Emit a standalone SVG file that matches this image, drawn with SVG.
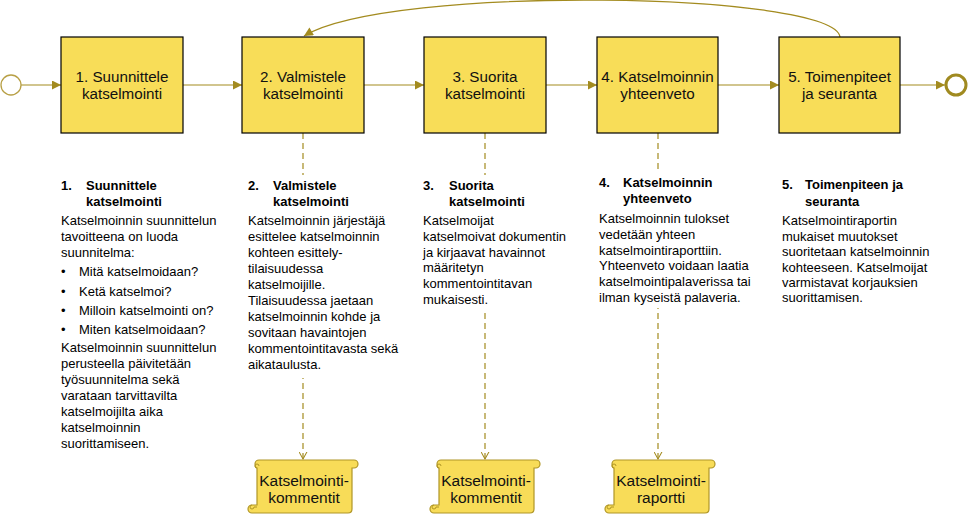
<svg xmlns="http://www.w3.org/2000/svg" width="968" height="517" viewBox="0 0 968 517">
<style>
.box{fill:#F8DD58;stroke:#000;stroke-width:1.2}
.btxt{font-family:"Liberation Sans",Arial,sans-serif;font-size:15.2px;fill:#111;text-anchor:middle}
.flow{fill:none;stroke:#A38B1F;stroke-width:1.2}
.dash{fill:none;stroke:#A38B1F;stroke-width:1.2;stroke-dasharray:6 4}
.scroll{fill:#F8DC58;stroke:#B09626;stroke-width:1.2}
.curl{fill:none;stroke:#B09626;stroke-width:1}
.stxt{font-family:"Liberation Sans",Arial,sans-serif;font-size:15.5px;fill:#111;text-anchor:middle}
.h{font-family:"Liberation Sans",Arial,sans-serif;font-size:13px;font-weight:bold;fill:#000}
.t{font-family:"Liberation Sans",Arial,sans-serif;font-size:13px;fill:#000}
.bg{fill:#fff}
</style>
<defs>
<marker id="arr" viewBox="0 0 10 10" refX="10" refY="5" markerWidth="10" markerHeight="9" markerUnits="userSpaceOnUse" orient="auto">
<path d="M0,0 L10,5 L0,10 Z" fill="#A38B1F"/>
</marker>
<marker id="open" viewBox="0 0 10 10" refX="9" refY="5" markerWidth="8" markerHeight="9" markerUnits="userSpaceOnUse" orient="auto">
<path d="M0,0 L9,5 L0,10" fill="none" stroke="#A38B1F" stroke-width="1.3"/>
</marker>
</defs>
<rect width="968" height="517" fill="#fff"/>

<g id="connectors">
<line class="flow" x1="21" y1="85" x2="61" y2="85" marker-end="url(#arr)"/>
<line class="flow" x1="183" y1="85" x2="242" y2="85" marker-end="url(#arr)"/>
<line class="flow" x1="364" y1="85" x2="424" y2="85" marker-end="url(#arr)"/>
<line class="flow" x1="546" y1="85" x2="597" y2="85" marker-end="url(#arr)"/>
<line class="flow" x1="718" y1="85" x2="779" y2="85" marker-end="url(#arr)"/>
<line class="flow" x1="900" y1="85" x2="945" y2="85" marker-end="url(#arr)"/>
<path class="flow" d="M840,37 C835,-8 390,-16 304,36" marker-end="url(#arr)"/>
<line class="dash" x1="303" y1="133" x2="303" y2="459" marker-end="url(#open)"/>
<line class="dash" x1="485" y1="133" x2="485" y2="459" marker-end="url(#open)"/>
<line class="dash" x1="658" y1="133" x2="658" y2="459" marker-end="url(#open)"/>
</g>

<g id="start"><circle cx="11" cy="85" r="10" fill="#fff" stroke="#B8A046" stroke-width="1.3"/></g>
<g id="end"><circle cx="956" cy="85" r="10" fill="#fff" stroke="#A08A20" stroke-width="3"/></g>

<g id="step1"><rect class="box" x="61" y="37" width="122" height="96"/>
<text class="btxt" x="122" y="82">1. Suunnittele</text><text class="btxt" x="122" y="99">katselmointi</text></g>
<g id="step2"><rect class="box" x="242" y="37" width="122" height="96"/>
<text class="btxt" x="303" y="82">2. Valmistele</text><text class="btxt" x="303" y="99">katselmointi</text></g>
<g id="step3"><rect class="box" x="424" y="37" width="122" height="96"/>
<text class="btxt" x="485" y="82">3. Suorita</text><text class="btxt" x="485" y="99">katselmointi</text></g>
<g id="step4"><rect class="box" x="597" y="37" width="121" height="96"/>
<text class="btxt" x="657.5" y="82">4. Katselmoinnin</text><text class="btxt" x="657.5" y="99">yhteenveto</text></g>
<g id="step5"><rect class="box" x="779" y="37" width="121" height="96"/>
<text class="btxt" x="839.5" y="82">5. Toimenpiteet</text><text class="btxt" x="839.5" y="99">ja seuranta</text></g>

<g id="desc1">
<text class="h" x="61" y="190">1.</text>
<text class="h" x="86" y="190">Suunnittele</text>
<text class="h" x="86" y="206">katselmointi</text>
<text class="t" x="61" y="225">Katselmoinnin suunnittelun</text>
<text class="t" x="61" y="241">tavoitteena on luoda</text>
<text class="t" x="61" y="257">suunnitelma:</text>
<text class="t" x="61" y="276">•</text><text class="t" x="79" y="276">Mitä katselmoidaan?</text>
<text class="t" x="61" y="296">•</text><text class="t" x="79" y="296">Ketä katselmoi?</text>
<text class="t" x="61" y="315">•</text><text class="t" x="79" y="315">Milloin katselmointi on?</text>
<text class="t" x="61" y="334">•</text><text class="t" x="79" y="334">Miten katselmoidaan?</text>
<text class="t" x="61" y="352">Katselmoinnin suunnittelun</text>
<text class="t" x="61" y="368">perusteella päivitetään</text>
<text class="t" x="61" y="384">työsuunnitelma sekä</text>
<text class="t" x="61" y="400">varataan tarvittavilta</text>
<text class="t" x="61" y="416">katselmoijilta aika</text>
<text class="t" x="61" y="432">katselmoinnin</text>
<text class="t" x="61" y="448">suorittamiseen.</text>
</g>

<g id="desc2">
<rect class="bg" x="244" y="175" width="164" height="203"/>
<text class="h" x="248" y="190">2.</text>
<text class="h" x="273" y="190">Valmistele</text>
<text class="h" x="273" y="206">katselmointi</text>
<text class="t" x="248" y="225">Katselmoinnin järjestäjä</text>
<text class="t" x="248" y="241">esittelee katselmoinnin</text>
<text class="t" x="248" y="257">kohteen esittely-</text>
<text class="t" x="248" y="273">tilaisuudessa</text>
<text class="t" x="248" y="289">katselmoijille.</text>
<text class="t" x="248" y="305">Tilaisuudessa jaetaan</text>
<text class="t" x="248" y="321">katselmoinnin kohde ja</text>
<text class="t" x="248" y="337">sovitaan havaintojen</text>
<text class="t" x="248" y="353">kommentointitavasta sekä</text>
<text class="t" x="248" y="369">aikataulusta.</text>
</g>

<g id="desc3">
<rect class="bg" x="419" y="175" width="156" height="138"/>
<text class="h" x="423" y="190">3.</text>
<text class="h" x="449" y="190">Suorita</text>
<text class="h" x="449" y="206">katselmointi</text>
<text class="t" x="423" y="225">Katselmoijat</text>
<text class="t" x="423" y="241">katselmoivat dokumentin</text>
<text class="t" x="423" y="257">ja kirjaavat havainnot</text>
<text class="t" x="423" y="272">määritetyn</text>
<text class="t" x="423" y="288">kommentointitavan</text>
<text class="t" x="423" y="304">mukaisesti.</text>
</g>

<g id="desc4">
<rect class="bg" x="595" y="173" width="166" height="135"/>
<text class="h" x="599" y="187">4.</text>
<text class="h" x="623" y="187">Katselmoinnin</text>
<text class="h" x="623" y="203">yhteenveto</text>
<text class="t" x="599" y="223">Katselmoinnin tulokset</text>
<text class="t" x="599" y="239">vedetään yhteen</text>
<text class="t" x="599" y="255">katselmointiraporttiin.</text>
<text class="t" x="599" y="270">Yhteenveto voidaan laatia</text>
<text class="t" x="599" y="286">katselmointipalaverissa tai</text>
<text class="t" x="599" y="302">ilman kyseistä palaveria.</text>
</g>

<g id="desc5">
<text class="h" x="782" y="189">5.</text>
<text class="h" x="805" y="189">Toimenpiteen ja</text>
<text class="h" x="805" y="206">seuranta</text>
<text class="t" x="782" y="225">Katselmointiraportin</text>
<text class="t" x="782" y="241">mukaiset muutokset</text>
<text class="t" x="782" y="256">suoritetaan katselmoinnin</text>
<text class="t" x="782" y="272">kohteeseen. Katselmoijat</text>
<text class="t" x="782" y="287">varmistavat korjauksien</text>
<text class="t" x="782" y="302">suorittamisen.</text>
</g>

<g id="doc1">
<path class="scroll" d="M255,464 a4,4 0 0 1 4,-4 H354 a4,4 0 0 1 0,8 H352 V509 q0,4 -4,4 H252 a4,4 0 0 1 0,-8 H257 V468 Q255,468 255,464 Z"/>
<path class="curl" d="M257,468 a2,2 0 1 1 2,-2 M252,505 a2,2 0 1 0 2,2 h3"/>
<text class="stxt" x="304" y="486">Katselmointi-</text><text class="stxt" x="304" y="503">kommentit</text>
</g>
<g id="doc2">
<path class="scroll" d="M437,464 a4,4 0 0 1 4,-4 H536 a4,4 0 0 1 0,8 H534 V509 q0,4 -4,4 H434 a4,4 0 0 1 0,-8 H439 V468 Q437,468 437,464 Z"/>
<path class="curl" d="M439,468 a2,2 0 1 1 2,-2 M434,505 a2,2 0 1 0 2,2 h3"/>
<text class="stxt" x="486" y="486">Katselmointi-</text><text class="stxt" x="486" y="503">kommentit</text>
</g>
<g id="doc3">
<path class="scroll" d="M612,464 a4,4 0 0 1 4,-4 H711 a4,4 0 0 1 0,8 H709 V509 q0,4 -4,4 H609 a4,4 0 0 1 0,-8 H614 V468 Q612,468 612,464 Z"/>
<path class="curl" d="M614,468 a2,2 0 1 1 2,-2 M609,505 a2,2 0 1 0 2,2 h3"/>
<text class="stxt" x="661" y="486">Katselmointi-</text><text class="stxt" x="661" y="503">raportti</text>
</g>
</svg>
